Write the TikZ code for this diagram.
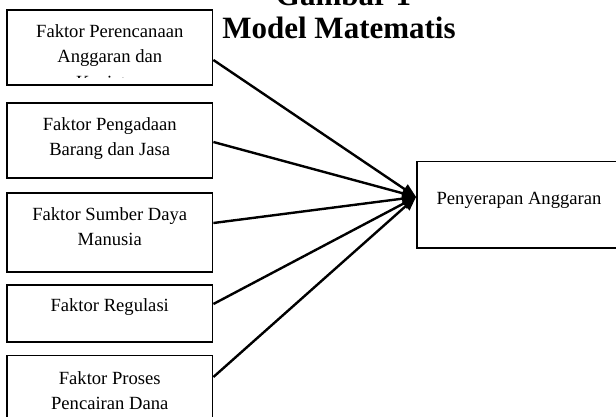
\documentclass[tikz,border=0pt]{standalone}
\usepackage{fontspec}
\setmainfont{Liberation Serif}
\usetikzlibrary{arrows.meta}
\begin{document}
\begin{tikzpicture}[x=1pt,y=-1pt,
  box/.style={draw=black, line width=1.8pt, rectangle, inner sep=0pt, fill=white},
  lbl/.style={anchor=base, inner sep=0pt, font=\fontsize{18.6}{24}\selectfont},
  ttl/.style={anchor=base, inner sep=0pt, font=\fontsize{31}{36}\selectfont\bfseries},
  conn/.style={line width=2.4pt, -{Triangle[length=14pt,width=11pt]}}]
\clip (0,0) rectangle (616,416);
\fill[white] (0,0) rectangle (616,416);
% title
\node[ttl] (t1) at (343.5,5) {Gambar 1};
\node[ttl] (t2) at (339,38) {Model Matematis};
% boxes
\node[box, minimum width=205.5pt, minimum height=75pt] (b1) at (109.75,47.5) {};
\node[box, minimum width=205.5pt, minimum height=75pt] (b2) at (109.75,140.5) {};
\node[box, minimum width=205.5pt, minimum height=79pt] (b3) at (109.75,232.5) {};
\node[box, minimum width=205.5pt, minimum height=57pt] (b4) at (109.75,313.5) {};
\node[box, minimum width=205.5pt, minimum height=74.5pt] (b5) at (109.75,392.75) {};
\node[box, minimum width=208pt, minimum height=86.8pt] (rb) at (521,204.9) {};
% texts
\node[lbl] (l1a) at (109.75,37) {Faktor Perencanaan};
\node[lbl] (l1b) at (109.75,62.5) {Anggaran dan};
\begin{scope}
  \clip (8,11) rectangle (211,77);
  \node[lbl] (l1c) at (109.75,88) {Kegiatan};
\end{scope}
\node[lbl] (l2a) at (109.75,130.7) {Faktor Pengadaan};
\node[lbl] (l2b) at (109.75,155.7) {Barang dan Jasa};
\node[lbl] (l3a) at (109.75,220.7) {Faktor Sumber Daya};
\node[lbl] (l3b) at (109.75,245.7) {Manusia};
\node[lbl] (l4a) at (109.75,311) {Faktor Regulasi};
\node[lbl] (l5a) at (109.75,384.7) {Faktor Proses};
\node[lbl] (l5b) at (109.75,409) {Pencairan Dana};
\node[lbl] (lr) at (519,204) {Penyerapan Anggaran};
% connectors
\coordinate (tip) at ([yshift=8pt]rb.west);
\draw[conn] ([yshift=-12.5pt]b1.east) -- (tip);
\draw[conn] ([yshift=-1.5pt]b2.east) -- (tip);
\draw[conn] ([yshift=9.5pt]b3.east) -- (tip);
\draw[conn] ([yshift=9.5pt]b4.east) -- (tip);
\draw[conn] ([yshift=15.75pt]b5.east) -- (tip);
\end{tikzpicture}
\end{document}
